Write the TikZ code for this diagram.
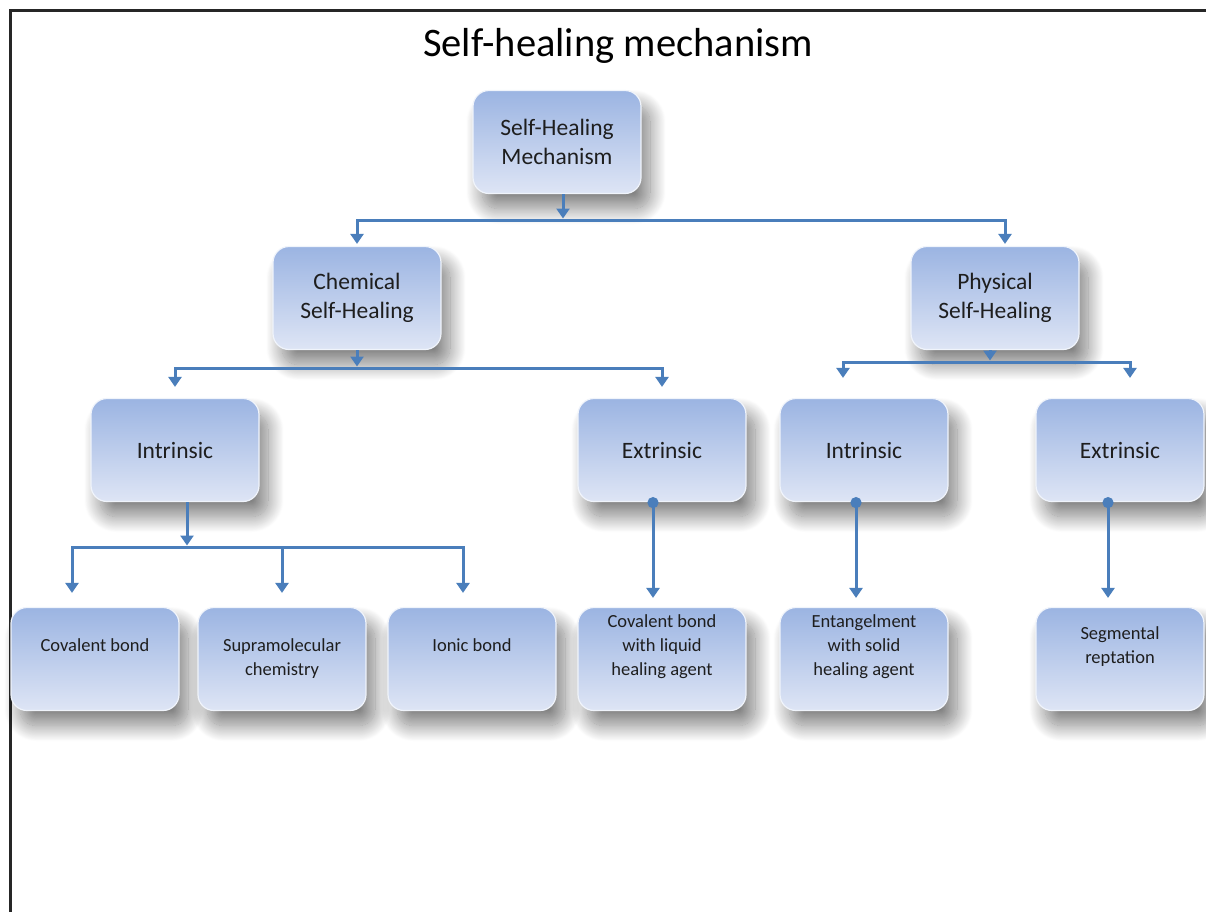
\documentclass[tikz,border=0pt]{standalone}
\usepackage{fontspec}
\setmainfont{Carlito}
\usetikzlibrary{arrows.meta, shadows.blur}

\definecolor{boxtop}{RGB}{155,180,226}
\definecolor{boxbottom}{RGB}{222,229,245}
\definecolor{linkblue}{RGB}{74,126,187}
\definecolor{inkgrey}{RGB}{30,30,30}

\tikzstyle{mechbox} = [
    rectangle,
    rounded corners=16pt,
    minimum width=168pt,
    minimum height=103pt,
    inner ysep=2pt,
    top color=boxtop,
    bottom color=boxbottom,
    draw=white!85!boxtop,
    line width=1.2pt,
    text=inkgrey,
    align=center,
    blur shadow={shadow xshift=9pt, shadow yshift=-15pt,
                 shadow blur radius=16pt, shadow blur steps=30,
                 shadow opacity=50},
    font=\fontsize{23.5}{29}\selectfont
]
\tikzstyle{leafbox} = [
    mechbox,
    font=\fontsize{18.5}{24}\selectfont
]
\tikzstyle{raised} = [text depth=27pt]
\tikzstyle{arrow} = [
    line width=3pt,
    draw=linkblue,
    -{Triangle[width=13pt,length=10pt]}
]
\tikzstyle{dotarrow} = [
    arrow,
    {Circle[length=11pt]}-{Triangle[width=13pt,length=10pt]}
]

\begin{document}
\begin{tikzpicture}[x=1pt, y=-1pt]

\useasboundingbox (0,0) rectangle (1206,911);

% frame
\draw [line width=3pt, black!85] (10,920) -- (10,10) -- (1215,10);

\node (title) at (618,46) [text=black, font=\fontsize{40.5}{44}\selectfont]
{Self-healing mechanism};

\node (root) [mechbox] at (557,142) {Self-Healing\\Mechanism};

\node (chem) [mechbox] at (357,298) {Chemical\\Self-Healing};
\node (phys) [mechbox] at (995,298) {Physical\\Self-Healing};

\node (chemin) [mechbox] at (175,450) {Intrinsic};
\node (chemex) [mechbox] at (662,450) {Extrinsic};
\node (physin) [mechbox] at (864,450) {Intrinsic};
\node (physex) [mechbox] at (1120,450) {Extrinsic};

\node (covalent) [leafbox, raised] at (95,659) {Covalent bond};
\node (supra) [leafbox] at (282,659) {Supramolecular\\chemistry};
\node (ionic) [leafbox, raised] at (472,659) {Ionic bond};
\node (liquid) [leafbox, raised] at (662,659)
{Covalent bond\\with liquid\\healing agent};
\node (entangle) [leafbox, raised] at (864,659)
{Entangelment\\with solid\\healing agent};
\node (segment) [leafbox, raised] at (1120,659)
{Segmental\\reptation};

% branch points
\coordinate (rootbar) at (563,220);
\coordinate (chembar) at (357,368);
\coordinate (physbar) at (990,362);
\coordinate (inbar) at (187,547);

\draw [arrow, shorten >=1.5pt] ([xshift=6pt]root.south) -- (rootbar);
\draw [arrow, shorten >=2pt] (rootbar) -| (chem.north);
\draw [arrow, shorten >=2pt] (rootbar) -| ([xshift=10pt]phys.north);

\draw [arrow, shorten >=1.5pt] (chem) -- (chembar);
\draw [arrow, shorten >=11pt] (chembar) -| (chemin.north);
\draw [arrow, shorten >=11pt] (chembar) -| (chemex.north);

\draw [arrow, shorten >=1.5pt] ([xshift=-5pt]phys.south) -- (physbar);
\draw [arrow, shorten >=20pt] (physbar) -| ([xshift=-21pt]physin.north);
\draw [arrow, shorten >=20pt] (physbar) -| ([xshift=10pt]physex.north);

\draw [arrow, shorten >=1.5pt] ([xshift=12pt]chemin.south) -- (inbar);
\draw [arrow, shorten >=14pt] (inbar) -| ([xshift=-23pt]covalent.north);
\draw [arrow, shorten >=14pt] (inbar) -| (supra.north);
\draw [arrow, shorten >=14pt] (inbar) -| ([xshift=-9pt]ionic.north);

\draw [dotarrow, shorten <=-5pt, shorten >=9pt]
    ([xshift=-9pt]chemex.south) -- ([xshift=-9pt]liquid.north);
\draw [dotarrow, shorten <=-5pt, shorten >=9pt]
    ([xshift=-8pt]physin.south) -- ([xshift=-8pt]entangle.north);
\draw [dotarrow, shorten <=-5pt, shorten >=9pt]
    ([xshift=-12pt]physex.south) -- ([xshift=-12pt]segment.north);

\end{tikzpicture}
\end{document}
